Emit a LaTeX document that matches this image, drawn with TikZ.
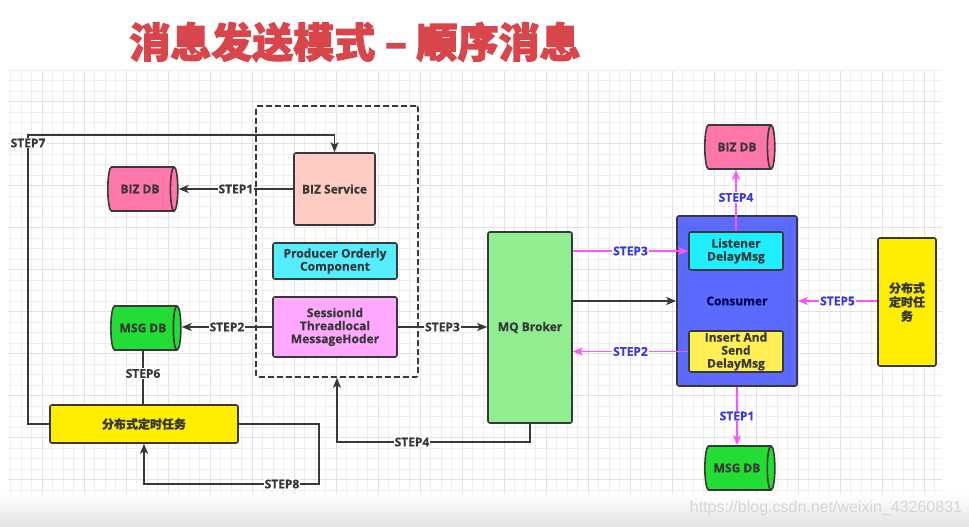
\documentclass[tikz,border=0pt]{standalone}
\usepackage{fontspec}
\setmainfont{Open Sans}[BoldFeatures={FakeBold=0.6}]
\newfontfamily\cjk{Noto Sans CJK SC}[BoldFeatures={FakeBold=0.6}]
\newfontfamily\cjkt{Noto Sans CJK SC}[BoldFeatures={FakeBold=2.5}]
\newfontfamily\wm{Liberation Sans}
\usetikzlibrary{shapes.geometric,arrows.meta}
\definecolor{titlered}{HTML}{D8464B}
\definecolor{ink}{HTML}{383838}
\definecolor{mag}{HTML}{FF55FF}
\definecolor{lblue}{HTML}{3838E0}
\definecolor{svcfill}{HTML}{FFCCC4}
\definecolor{prodfill}{HTML}{55EEFF}
\definecolor{sessfill}{HTML}{FFA8FF}
\definecolor{dbpink}{HTML}{FF77AA}
\definecolor{dbgreen}{HTML}{22DD33}
\definecolor{mqfill}{HTML}{90EE90}
\definecolor{consfill}{HTML}{5C6AFF}
\definecolor{lisfill}{HTML}{1EEEFF}
\definecolor{insfill}{HTML}{FFEE55}
\definecolor{taskfill}{HTML}{FFEE00}
\definecolor{gridminor}{HTML}{EEEEEE}
\definecolor{gridmajor}{HTML}{E2E2E2}
\begin{document}
\begin{tikzpicture}[x=1pt,y=-1pt,
  every node/.style={font=\bfseries\fontsize{12}{13}\selectfont, text=ink},
  box/.style={draw=ink, line width=1.6pt, rounded corners=2pt, align=center, inner sep=1pt},
  db/.style={cylinder, draw=ink, line width=1.6pt, shape aspect=0.7, minimum width=44pt, minimum height=70pt, inner sep=1pt},
  conn/.style={draw=ink, line width=1.7pt},
  arr/.style={conn, -{Stealth[length=10pt,width=8pt,inset=2.5pt]}},
  marr/.style={draw=mag, line width=1.7pt, -{Stealth[length=10pt,width=8pt,inset=2.5pt]}},
  lbl/.style={fill=white, inner sep=1pt, text=ink},
  mlbl/.style={fill=white, inner sep=1pt, text=lblue},
]
\useasboundingbox (0,0) rectangle (969,527);
\fill[white] (0,0) rectangle (969,527);
% grid
\foreach \i in {1,...,89} {
  \pgfmathtruncatemacro{\m}{mod(\i,4)}
  \ifnum\m=0 \draw[gridmajor, line width=0.7pt] ({\i*10.5},70) -- ({\i*10.5},497);
  \else \draw[gridminor, line width=0.6pt] ({\i*10.5},70) -- ({\i*10.5},497); \fi
}
\foreach \j in {0,...,40} {
  \pgfmathtruncatemacro{\m}{mod(\j,4)}
  \ifnum\m=3 \draw[gridmajor, line width=0.7pt] (8,{70+\j*10.5}) -- (942,{70+\j*10.5});
  \else \draw[gridminor, line width=0.6pt] (8,{70+\j*10.5}) -- (942,{70+\j*10.5}); \fi
}
\shade[top color=white, bottom color=black!11] (0,494) rectangle (969,527);

% title
\node (title) at (355,42) {\cjkt\bfseries\fontsize{41}{43}\selectfont\color{titlered}消息发送模式 – 顺序消息};

% producer side
\node[draw=ink, dash pattern=on 6pt off 3pt, line width=1.6pt, rounded corners=2pt, minimum width=162pt, minimum height=271pt] (grp) at (337,241.5) {};
\node[box, fill=svcfill, minimum width=81pt, minimum height=72pt] (svc) at (334.5,189) {BIZ Service};
\node[box, fill=prodfill, minimum width=124pt, minimum height=36pt] (prod) at (335,261) {Producer Orderly\\Component};
\node[box, fill=sessfill, minimum width=124pt, minimum height=60pt] (sess) at (335,327) {SessionId\\Threadlocal\\MessageHoder};
\node[db, fill=dbpink] (bizL) at (140,189) {BIZ DB};
\node[db, fill=dbgreen] (msgL) at (143,328) {MSG DB};
\node[box, fill=taskfill, minimum width=188pt, minimum height=38pt] (task) at (144,424) {\cjk\bfseries 分布式定时任务};

% broker and consumer
\node[box, fill=mqfill, minimum width=84pt, minimum height=191pt] (mq) at (530,327.5) {MQ Broker};
\node[box, fill=consfill, minimum width=120pt, minimum height=170pt, text=black!70!blue] (cons) at (737,301) {Consumer};
\node[box, fill=lisfill, minimum width=94pt, minimum height=38pt] (lis) at (736,251) {Listener\\DelayMsg};
\node[box, fill=insfill, minimum width=94pt, minimum height=41pt] (ins) at (736,351.5) {Insert And\\Send\\DelayMsg};
\node[db, fill=dbpink] (bizR) at (737,147) {BIZ DB};
\node[db, fill=dbgreen] (msgR) at (737,468) {MSG DB};
\node[box, fill=taskfill, minimum width=58pt, minimum height=128pt, font=\cjk\bfseries\fontsize{12}{14}\selectfont] (rtask) at (907,302) {分布式\\定时任\\务};

% coordinates for bends
\coordinate (c7) at (28,135);
\coordinate (c8) at (319,484);
\coordinate (c4) at (338,442);

% left connectors
\draw[arr] (svc.west) -- (svc.west -| bizL.east) node[lbl, midway] {STEP1};
\draw[arr] (sess.west) -- (sess.west -| msgL.east) node[lbl, midway] {STEP2};
\draw[arr] (sess.east) -- (sess.east -| mq.west) node[lbl, midway] {STEP3};
\draw[arr] (task.west) -| (c7) -| (svc.north);
\node[lbl] (s7) at (28,143) {STEP7};
\draw[conn] (msgL.south) -- (msgL.south |- task.north) node[lbl, midway, yshift=4pt] {STEP6};
\draw[arr] (task.east) -| (c8) -| (task.south);
\node[lbl] (s8) at (282,484) {STEP8};
\draw[arr] (mq.south) |- (c4) -| (grp.south);
\node[lbl] (s4) at (412,442) {STEP4};

% right connectors
\draw[marr] (mq.east |- lis.west) -- (lis.west) node[mlbl, pos=0.5] {STEP3};
\draw[arr] (mq.east |- cons.west) -- (cons.west);
\draw[marr] (ins.west) -- (ins.west -| mq.east) node[mlbl, pos=0.5] {STEP2};
\draw[marr] (rtask.west |- cons.east) -- (cons.east) node[mlbl, midway] {STEP5};
\draw[marr] (lis.north) -- (lis.north |- bizR.south) node[mlbl, pos=0.55] {STEP4};
\draw[marr] (cons.south) -- (cons.south |- msgR.north) node[mlbl, midway] {STEP1};

% watermark
\node[font=\wm\fontsize{16}{17}\selectfont, text=black!16] (wmk) at (826,508) {https://blog.csdn.net/weixin\_43260831};
\end{tikzpicture}
\end{document}
